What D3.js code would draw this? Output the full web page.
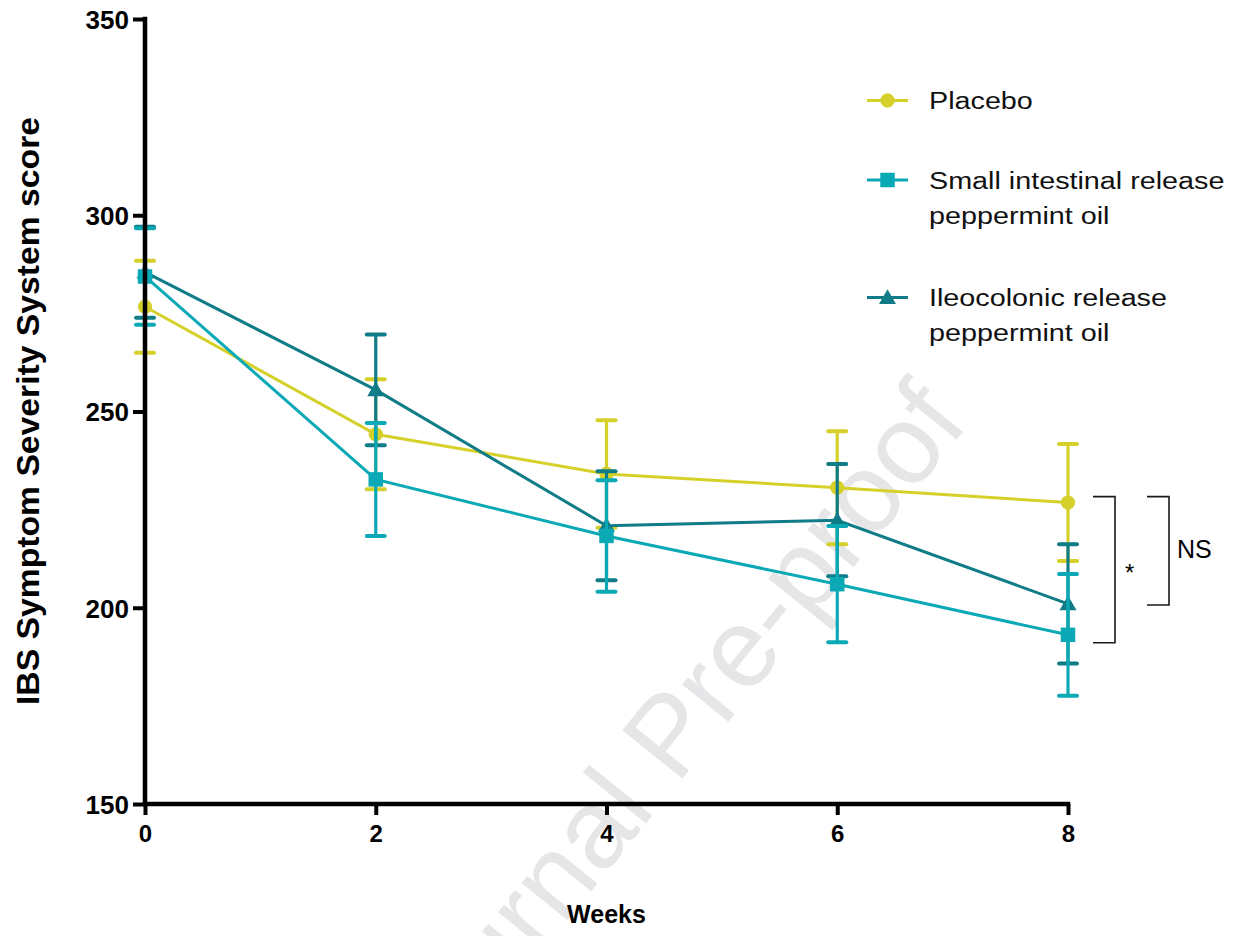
<!DOCTYPE html>
<html>
<head>
<meta charset="utf-8">
<script src="https://cdn.jsdelivr.net/npm/d3@7/dist/d3.min.js"></script>
<style>
  html, body { margin: 0; padding: 0; background: #ffffff; }
  svg { display: block; font-family: "Liberation Sans", Arial, Helvetica, sans-serif; }
</style>
</head>
<body>
<svg id="chart" width="1236" height="936"></svg>
<script>
// Weeks of follow-up
const weeks = [0, 2, 4, 6, 8];

// Mean IBS-SSS score and error (half-width) per group
const placeboMean = [276.7, 244.2, 234.1, 230.6, 226.8];
const placeboErr  = [11.7, 14.0, 13.7, 14.4, 14.9];
const smallMean   = [284.4, 232.7, 218.3, 206.0, 193.1];
const smallErr    = [12.3, 14.4, 14.2, 14.8, 15.5];
const ileoMean    = [285.5, 255.5, 220.9, 222.3, 201.0];
const ileoErr     = [11.6, 14.1, 13.9, 14.3, 15.2];

// Axis ticks
const xTicks = [0, 2, 4, 6, 8];
const yTicks = [150, 200, 250, 300, 350];

// Legend labels (one entry per line)
const placeboLabel = ["Placebo"];
const smallLabel   = ["Small intestinal release", "peppermint oil"];
const ileoLabel    = ["Ileocolonic release", "peppermint oil"];

// Significance brackets at week 8: [top value, bottom value, label]
const bracketStar = [228.3, 191.1, "*"];
const bracketNS   = [228.3, 200.7, "NS"];

const svg = d3.select("#chart");

const x = d3.scaleLinear().domain([0, 8]).range([145, 1068]);
const y = d3.scaleLinear().domain([150, 350]).range([804, 19]);

// Watermark behind the plot
svg.append("text")
  .attr("transform", "translate(668,735) rotate(-51)")
  .attr("text-anchor", "middle")
  .attr("dominant-baseline", "central")
  .attr("font-size", 112)
  .attr("fill", "#e6e6e8")
  .text("Journal Pre-proof");

// Series definitions
const series = [
  { name: "placebo", mean: placeboMean, err: placeboErr, color: "#d5d02a", shape: "circle", label: placeboLabel },
  { name: "ileo", mean: ileoMean, err: ileoErr, color: "#0f7c87", shape: "triangle", label: ileoLabel },
  { name: "small", mean: smallMean, err: smallErr, color: "#0aa9b5", shape: "square", label: smallLabel }
];

const symbolFor = shape => {
  if (shape === "circle") return d3.symbol().type(d3.symbolCircle).size(160);
  if (shape === "square") return d3.symbol().type(d3.symbolSquare).size(210);
  return d3.symbol().type(d3.symbolTriangle).size(125);
};

const plot = svg.append("g");
const capHalf = 9;

series.forEach(s => {
  const pts = weeks.map((w, i) => ({ w, m: s.mean[i], e: s.err[i] }));
  const g = plot.append("g").attr("class", "series-" + s.name);

  // error bars
  const eb = g.selectAll("g.err").data(pts).join("g").attr("class", "err");
  eb.append("line")
    .attr("x1", d => x(d.w)).attr("x2", d => x(d.w))
    .attr("y1", d => y(d.m + d.e)).attr("y2", d => y(d.m - d.e))
    .attr("stroke", s.color).attr("stroke-width", 3.2);
  eb.append("line")
    .attr("x1", d => x(d.w) - capHalf).attr("x2", d => x(d.w) + capHalf)
    .attr("y1", d => y(d.m + d.e)).attr("y2", d => y(d.m + d.e))
    .attr("stroke", s.color).attr("stroke-width", 4).attr("stroke-linecap", "round");
  eb.append("line")
    .attr("x1", d => x(d.w) - capHalf).attr("x2", d => x(d.w) + capHalf)
    .attr("y1", d => y(d.m - d.e)).attr("y2", d => y(d.m - d.e))
    .attr("stroke", s.color).attr("stroke-width", 4).attr("stroke-linecap", "round");

  // connecting line
  g.append("path")
    .datum(pts)
    .attr("fill", "none")
    .attr("stroke", s.color)
    .attr("stroke-width", 3)
    .attr("d", d3.line().x(d => x(d.w)).y(d => y(d.m)));

  // markers
  g.selectAll("path.mk").data(pts).join("path")
    .attr("class", "mk")
    .attr("transform", d => `translate(${x(d.w)},${y(d.m) + (s.shape === "triangle" ? 1.5 : 0)})`)
    .attr("d", symbolFor(s.shape)())
    .attr("fill", s.color);
});

// Axes
const yAxis = svg.append("g")
  .attr("transform", `translate(${x(0)},0)`)
  .call(d3.axisLeft(y).tickValues(yTicks).tickSize(12).tickPadding(4).tickFormat(d3.format("d")));
const xAxis = svg.append("g")
  .attr("transform", `translate(0,${y(150)})`)
  .call(d3.axisBottom(x).tickValues(xTicks).tickSize(11).tickPadding(10).tickFormat(d3.format("d")));

[yAxis, xAxis].forEach(a => {
  a.select(".domain").attr("stroke", "#000").attr("stroke-width", 4.5)
    .attr("stroke-linecap", "square");
  a.selectAll(".tick line").attr("stroke", "#000").attr("stroke-width", 4);
  a.selectAll(".tick text").attr("fill", "#000").attr("font-weight", "bold")
    .attr("font-family", "'Liberation Sans', Arial, sans-serif");
});
yAxis.select(".domain").attr("d", `M0,${y(150)}V${y(350)}`);
xAxis.select(".domain").attr("d", `M${x(0)},0H${x(8)}`);
yAxis.selectAll(".tick text").attr("font-size", 26).attr("dy", "0.36em");
xAxis.selectAll(".tick text").attr("font-size", 24);

// Axis titles
svg.append("text")
  .attr("transform", "translate(39,411) rotate(-90)")
  .attr("text-anchor", "middle")
  .attr("font-size", 31)
  .attr("font-weight", "bold")
  .attr("textLength", 588)
  .attr("lengthAdjust", "spacingAndGlyphs")
  .text("IBS Symptom Severity System score");

svg.append("text")
  .attr("x", (x(0) + x(8)) / 2)
  .attr("y", 923)
  .attr("text-anchor", "middle")
  .attr("font-size", 25)
  .attr("font-weight", "bold")
  .text("Weeks");

// Significance brackets
const drawBracket = (b, x0, x1, labelX, labelY, fontSize) => {
  const g = svg.append("g");
  g.append("path")
    .attr("d", `M${x0},${y(b[0])}H${x1}V${y(b[1])}H${x0}`)
    .attr("fill", "none").attr("stroke", "#1a1a1a").attr("stroke-width", 1.6);
  g.append("text")
    .attr("x", labelX).attr("y", labelY)
    .attr("font-size", fontSize)
    .attr("dominant-baseline", "central")
    .text(b[2]);
};
drawBracket(bracketStar, 1093, 1115, 1125, 572, 24);
drawBracket(bracketNS, 1147, 1169, 1177, 549, 25);

// Legend
const legendOrder = [series[0], series[2], series[1]];
const legendRows = [100.5, 180, 297.5];
const legend = svg.append("g");
legendOrder.forEach((s, i) => {
  const cy = legendRows[i];
  const g = legend.append("g");
  g.append("line").attr("x1", 867).attr("x2", 908).attr("y1", cy).attr("y2", cy)
    .attr("stroke", s.color).attr("stroke-width", 3);
  g.append("path")
    .attr("transform", `translate(887.5,${cy + (s.shape === "triangle" ? 1.5 : 0)})`)
    .attr("d", symbolFor(s.shape)())
    .attr("fill", s.color);
  s.label.forEach((line, j) => {
    g.append("text")
      .attr("transform", `translate(929,${cy + 8.5 + j * 35}) scale(1.25,1)`)
      .attr("font-size", 23)
      .attr("fill", "#111")
      .text(line);
  });
});
</script>
</body>
</html>
